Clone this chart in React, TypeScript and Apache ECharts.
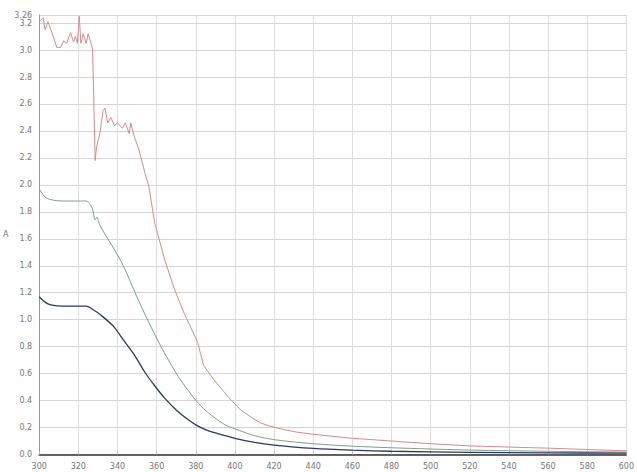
import React, { useEffect, useRef } from "react";
import * as echarts from "echarts";

const xTicks = [300, 320, 340, 360, 380, 400, 420, 440, 460, 480, 500, 520, 540, 560, 580, 600];

const redX = [300, 302, 303, 304.5, 306, 309, 311, 312.5, 314, 316, 317.5, 318.5, 319.5, 320.5, 321.3, 322.5, 324, 325, 326.5, 327.3, 328.6, 329.3, 331, 332.6, 333.6, 335, 336.6, 338.5, 340, 342.5, 344, 346, 346.8, 348.5, 351, 354, 356, 359, 364, 369, 374, 381, 384, 389, 397, 403, 409, 413, 418, 425, 432, 440, 460, 480, 500, 520, 540, 560, 580, 600];
const redY = [3.21, 3.24, 3.15, 3.21, 3.15, 3.02, 3.02, 3.07, 3.05, 3.13, 3.06, 3.10, 3.05, 3.25, 3.05, 3.12, 3.05, 3.12, 3.05, 3.0, 2.18, 2.28, 2.38, 2.55, 2.57, 2.46, 2.5, 2.44, 2.46, 2.42, 2.46, 2.38, 2.46, 2.36, 2.26, 2.09, 1.99, 1.72, 1.45, 1.23, 1.05, 0.83, 0.66, 0.56, 0.42, 0.33, 0.27, 0.235, 0.21, 0.185, 0.165, 0.15, 0.12, 0.1, 0.08, 0.064, 0.055, 0.047, 0.037, 0.027];

const greenX = [300, 303, 306, 312, 318, 324, 327, 328.6, 329.5, 331, 338, 343, 349, 356, 363, 371, 379, 384, 389, 395, 400, 410, 420, 440, 460, 480, 520, 560, 600];
const greenY = [1.97, 1.91, 1.89, 1.88, 1.88, 1.88, 1.83, 1.74, 1.76, 1.70, 1.53, 1.40, 1.20, 0.98, 0.78, 0.58, 0.42, 0.34, 0.28, 0.22, 0.19, 0.14, 0.11, 0.08, 0.062, 0.05, 0.033, 0.024, 0.018];

const blueX = [300, 303, 306, 312, 318, 324, 328, 331, 338, 343, 349, 354, 359, 364, 370, 375, 380, 385, 390, 400, 410, 420, 440, 460, 480, 520, 560, 600];
const blueY = [1.17, 1.13, 1.11, 1.10, 1.10, 1.10, 1.07, 1.04, 0.95, 0.85, 0.73, 0.61, 0.51, 0.42, 0.33, 0.27, 0.22, 0.185, 0.16, 0.12, 0.09, 0.07, 0.045, 0.032, 0.024, 0.016, 0.012, 0.01];

const yMax = 3.26;

const pairs = (xs: number[], ys: number[]) => xs.map((x, i) => [x, ys[i]]);

export default function App() {
  const ref = useRef<HTMLDivElement>(null);
  useEffect(() => {
    if (!ref.current) return;
    const chart = echarts.init(ref.current, undefined, { renderer: "svg" });
    chart.setOption({
      animation: false,
      backgroundColor: "#ffffff",
      grid: { left: 34, right: -2, top: 15, bottom: 17.5 },
      xAxis: {
        type: "value",
        min: xTicks[0],
        max: xTicks[xTicks.length - 1],
        interval: 20,
        axisLine: { show: true, onZero: false, lineStyle: { color: "#333", width: 1.5 } },
        axisTick: { show: true, length: 3, inside: true, lineStyle: { color: "#bbb" } },
        axisLabel: { fontSize: 8, color: "#777", margin: 8, fontFamily: "DejaVu Sans" },
        splitLine: { show: true, lineStyle: { color: "#dcdcdc", width: 1 } },
      },
      yAxis: {
        type: "value",
        min: 0,
        max: yMax,
        interval: 0.2,
        name: "A",
        nameLocation: "middle",
        nameGap: 22,
        nameRotate: 0,
        nameTextStyle: { fontSize: 8, color: "#777", fontFamily: "DejaVu Sans" },
        axisLine: { show: true, lineStyle: { color: "#999", width: 1 } },
        axisTick: { show: false },
        axisLabel: {
          fontSize: 8,
          color: "#777",
          margin: 7,
          fontFamily: "DejaVu Sans",
          formatter: (v: number) => (Math.abs(v - yMax) < 1e-6 ? String(yMax) : v.toFixed(1)),
        },
        splitLine: { show: true, lineStyle: { color: "#d4d4d4", width: 1 } },
      },
      series: [
        {
          type: "line",
          data: pairs(redX, redY),
          showSymbol: false,
          clip: false,
          lineStyle: { color: "#d88a8a", width: 1 },
        },
        {
          type: "line",
          data: pairs(greenX, greenY),
          showSymbol: false,
          smooth: 0.3,
          lineStyle: { color: "#7f9f86", width: 1 },
        },
        {
          type: "line",
          data: pairs(blueX, blueY),
          showSymbol: false,
          smooth: 0.3,
          lineStyle: { color: "#2c3868", width: 1.3 },
        },
      ],
    });
    return () => chart.dispose();
  }, []);
  return <div ref={ref} style={{ position: "fixed", left: 0, top: 0, width: 637, height: 472 }} />;
}
